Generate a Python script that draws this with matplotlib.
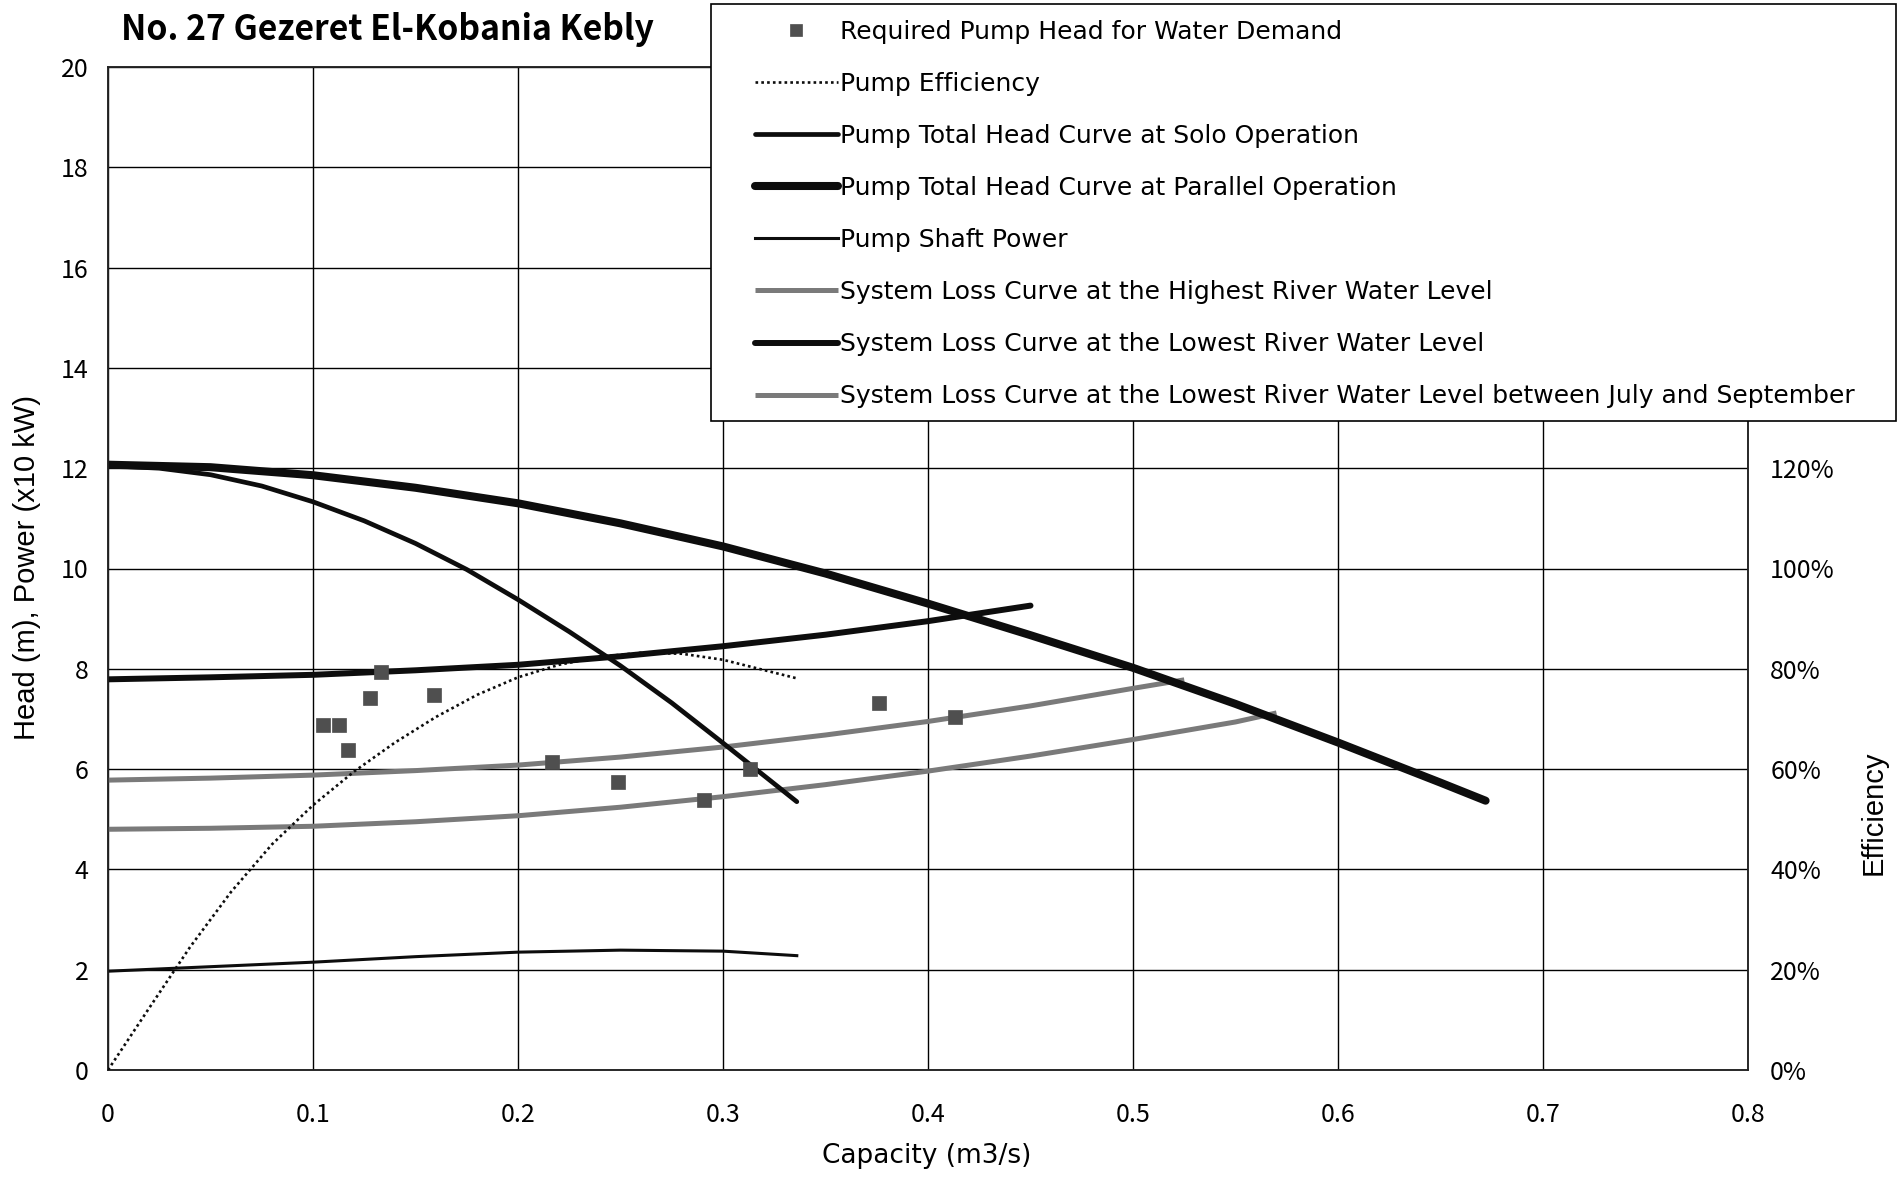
import matplotlib
matplotlib.use("Agg")
import matplotlib.pyplot as plt
from matplotlib.patches import Rectangle
from matplotlib.ticker import FuncFormatter, MultipleLocator, FixedLocator

# ---------------- data ----------------
cap_req = [0.105, 0.1125, 0.117, 0.128, 0.1333, 0.159, 0.2167, 0.249, 0.2907, 0.3132, 0.3762, 0.4134]
head_req = [6.88, 6.88, 6.38, 7.41, 7.94, 7.48, 6.15, 5.74, 5.38, 6.00, 7.32, 7.03]

q_eff = [0, 0.02, 0.04, 0.06, 0.08, 0.1, 0.12, 0.14, 0.16, 0.18, 0.2, 0.22, 0.24, 0.26, 0.28, 0.3, 0.336]
eff_pct = [0, 12.3, 24.5, 35.5, 45.0, 52.8, 59.5, 65.3, 70.4, 74.8, 78.3, 80.8, 82.4, 83.2, 83.0, 81.8, 78.1]

q_solo = [0, 0.025, 0.05, 0.075, 0.1, 0.125, 0.15, 0.175, 0.2, 0.225, 0.25, 0.275, 0.3, 0.336]
h_solo = [12.05, 12.00, 11.87, 11.645, 11.33, 10.95, 10.50, 9.98, 9.38, 8.74, 8.06, 7.32, 6.52, 5.35]

q_par = [0, 0.05, 0.1, 0.15, 0.2, 0.25, 0.3, 0.35, 0.4, 0.45, 0.5, 0.55, 0.6, 0.65, 0.672]
h_par = [12.07, 12.02, 11.86, 11.61, 11.30, 10.90, 10.44, 9.90, 9.30, 8.67, 8.02, 7.30, 6.53, 5.73, 5.37]

q_pow = [0, 0.05, 0.1, 0.15, 0.2, 0.25, 0.3, 0.336]
p_pow = [1.97, 2.06, 2.15, 2.26, 2.35, 2.39, 2.37, 2.28]

q_high = [0, 0.05, 0.1, 0.15, 0.2, 0.25, 0.3, 0.35, 0.4, 0.45, 0.5, 0.525]
h_high = [5.78, 5.82, 5.88, 5.97, 6.08, 6.24, 6.44, 6.68, 6.95, 7.26, 7.61, 7.78]

q_low = [0, 0.05, 0.1, 0.15, 0.2, 0.25, 0.3, 0.35, 0.4, 0.45]
h_low = [7.79, 7.83, 7.88, 7.97, 8.08, 8.25, 8.45, 8.68, 8.95, 9.26]

q_jul = [0, 0.05, 0.1, 0.15, 0.2, 0.25, 0.3, 0.35, 0.4, 0.45, 0.5, 0.55, 0.57]
h_jul = [4.80, 4.82, 4.86, 4.95, 5.07, 5.24, 5.45, 5.69, 5.96, 6.26, 6.59, 6.94, 7.12]

eff_ticks = [0, 20, 40, 60, 80, 100, 120]

labels = [
    "Required Pump Head for Water Demand",
    "Pump Efficiency",
    "Pump Total Head Curve at Solo Operation",
    "Pump Total Head Curve at Parallel Operation",
    "Pump Shaft Power",
    "System Loss Curve at the Highest River Water Level",
    "System Loss Curve at the Lowest River Water Level",
    "System Loss Curve at the Lowest River Water Level between July and September",
]

title = "No. 27 Gezeret El-Kobania Kebly"
xlabel = "Capacity (m3/s)"
ylabel = "Head (m), Power (x10 kW)"
y2label = "Efficiency"

# ---------------- figure ----------------
W, H = 1902, 1177
fig = plt.figure(figsize=(W / 100, H / 100), dpi=100)
fig.patch.set_facecolor("white")

L, R, B, T = 108, 1748, 1070, 67
ax = fig.add_axes([L / W, 1 - B / H, (R - L) / W, (B - T) / H])
ax2 = ax.twinx()

JP = ["Noto Sans CJK JP", "DejaVu Sans"]
SANS = ["Liberation Sans", "DejaVu Sans"]
DJ = ["DejaVu Sans"]

GRAY = "#7a7a7a"
DARK = "#0d0d0d"

ax.set_xlim(0, 0.8)
ax.set_ylim(0, 20)
ax2.set_ylim(0, 200)
ax.xaxis.set_major_locator(MultipleLocator(0.1))
ax.yaxis.set_major_locator(MultipleLocator(2))
ax2.yaxis.set_major_locator(FixedLocator(eff_ticks))
ax.grid(True, color="black", linewidth=1.0)
ax.set_axisbelow(True)

# series
l_high, = ax.plot(q_high, h_high, color=GRAY, lw=3.6, solid_capstyle="butt",
                  solid_joinstyle="round", zorder=3)
l_jul, = ax.plot(q_jul, h_jul, color=GRAY, lw=3.6, solid_capstyle="butt",
                 solid_joinstyle="round", zorder=3)
l_low, = ax.plot(q_low, h_low, color=DARK, lw=4.3, solid_capstyle="round",
                 solid_joinstyle="round", zorder=4)
l_solo, = ax.plot(q_solo, h_solo, color=DARK, lw=3.4, solid_capstyle="round",
                  solid_joinstyle="round", zorder=4)
l_par, = ax.plot(q_par, h_par, color=DARK, lw=5.8, solid_capstyle="round",
                 solid_joinstyle="round", zorder=4)
l_pow, = ax.plot(q_pow, p_pow, color=DARK, lw=2.2, solid_joinstyle="round", zorder=4)
pts, = ax.plot(cap_req, head_req, ls="none", marker="s", ms=10.5, mfc="#4f4f4f",
               mec="#4f4f4f", mew=0.5, zorder=5)
ax2.set_zorder(ax.get_zorder() + 1)
ax2.patch.set_visible(False)
l_eff, = ax2.plot(q_eff, eff_pct, color=DARK, lw=1.9, ls=(0, (1, 1.2)), zorder=4)

# ticks
ax.tick_params(axis="both", length=0, labelsize=18)
ax.tick_params(axis="x", pad=23)
ax.tick_params(axis="y", pad=14)
ax2.tick_params(axis="y", length=0, labelsize=18, pad=16)
ax.xaxis.set_major_formatter(FuncFormatter(lambda v, p: f"{v:g}"))
ax2.yaxis.set_major_formatter(FuncFormatter(lambda v, p: f"{v:.0f}%"))
for lab in ax.get_xticklabels() + ax.get_yticklabels() + ax2.get_yticklabels():
    lab.set_fontfamily(JP)

for sp in list(ax.spines.values()) + list(ax2.spines.values()):
    sp.set_color("#222222")
    sp.set_linewidth(1.1)

# axis labels
ax.set_xlabel(xlabel, fontsize=19, family=DJ, va="center")
ax.xaxis.set_label_coords((927 - L) / (R - L), (B - 1156) / (B - T))
ax.set_ylabel(ylabel, fontsize=21, family=SANS, va="center")
ax.yaxis.set_label_coords((27 - L) / (R - L), (B - 568) / (B - T))
ax2.set_ylabel(y2label, fontsize=21, family=SANS, va="center", rotation=90)
ax2.yaxis.set_label_coords((1874 - L) / (R - L), (B - 813) / (B - T))

# title
fig.text(121 / W, 1 - 40 / H, title, fontsize=24.3, fontweight="bold", family=JP,
         ha="left", va="baseline")

# legend box
bx0, by0, bx1, by1 = 711, 4, 1896, 421
fig.patches.append(Rectangle((bx0 / W, 1 - by1 / H), (bx1 - bx0) / W, (by1 - by0) / H,
                             transform=fig.transFigure, facecolor="white",
                             edgecolor="black", linewidth=1.2, zorder=4))
handles = [pts, l_eff, l_solo, l_par, l_pow, l_high, l_low, l_jul]
leg = fig.legend(handles, labels, loc="upper left",
                 bbox_to_anchor=(747 / W, 1 - 12 / H), frameon=False,
                 prop={"family": DJ, "size": 18}, handlelength=3.35,
                 handletextpad=0.05, labelspacing=1.125, borderaxespad=0,
                 borderpad=0.3, markerscale=0.85)
leg.set_zorder(5)

fig.savefig("out.png", dpi=100, facecolor="white")
